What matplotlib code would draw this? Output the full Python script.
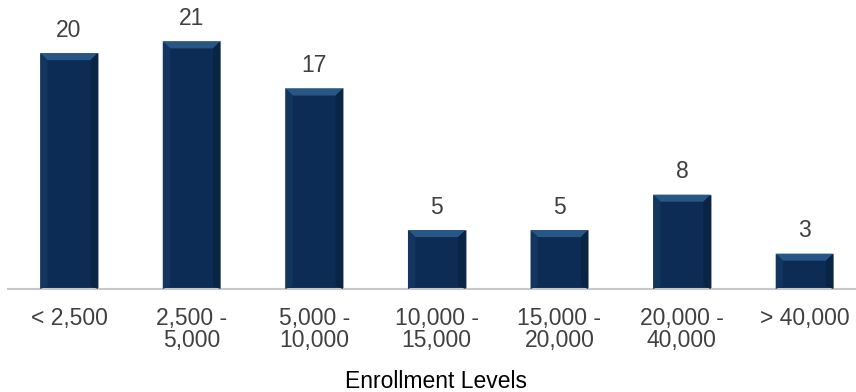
import matplotlib
matplotlib.use("Agg")
import matplotlib.pyplot as plt
import numpy as np

categories = ["< 2,500", "2,500 -\n5,000", "5,000 -\n10,000", "10,000 -\n15,000",
              "15,000 -\n20,000", "20,000 -\n40,000", "> 40,000"]
values = [20, 21, 17, 5, 5, 8, 3]
xlabel = "Enrollment Levels"

plt.rcParams['font.family'] = ['Liberation Sans', 'DejaVu Sans']

W, H = 856, 392
fig = plt.figure(figsize=(W/100, H/100), dpi=100)
left = 7.7 / W
right = 865.8 / W
bottom = (H - 289) / H
top = 1.0
ax = fig.add_axes([left, bottom, right - left, top - bottom])

x = np.arange(len(categories))
bw = 0.47
bars = ax.bar(x, values, width=bw, color="#0D2C55", edgecolor="#9AA4B0", linewidth=0.6, zorder=2)

# subtle bevel highlight on each bar
d = 0.06
t = 0.6
for b in bars:
    bx, by = b.get_x(), b.get_height()
    ax.add_patch(plt.Polygon([[bx, by], [bx + bw, by], [bx + bw - d, by - t], [bx + d, by - t]],
                             closed=True, color="#285685", zorder=3, lw=0))
    ax.add_patch(plt.Polygon([[bx, by], [bx + d, by - t], [bx + d, 0.25], [bx, 0]],
                             closed=True, color="#12365F", zorder=3, lw=0))
    ax.add_patch(plt.Polygon([[bx + bw, by], [bx + bw - d, by - t], [bx + bw - d, 0.25], [bx + bw, 0]],
                             closed=True, color="#0A2444", zorder=3, lw=0))

for xi, v in zip(x, values):
    ax.text(xi, v + 0.95, str(v), ha="center", va="bottom", fontsize=16.5, color="#404040")

ax.set_xlim(-0.5, len(categories) - 0.5)
ax.set_ylim(0, 24.5)
ax.set_yticks([])
ax.set_xticks(x)
ax.set_xticklabels(categories, fontsize=16.5, color="#404040", linespacing=0.95)
ax.tick_params(axis="x", length=0, pad=13)
for s in ["top", "right", "left"]:
    ax.spines[s].set_visible(False)
ax.spines["bottom"].set_color("#C8C8C8")
ax.spines["bottom"].set_linewidth(1.5)
fig.text(436 / W, 1 - 381 / H, xlabel, ha="center", va="center", fontsize=16.5, color="#000000")

fig.savefig("out.png", dpi=100)
